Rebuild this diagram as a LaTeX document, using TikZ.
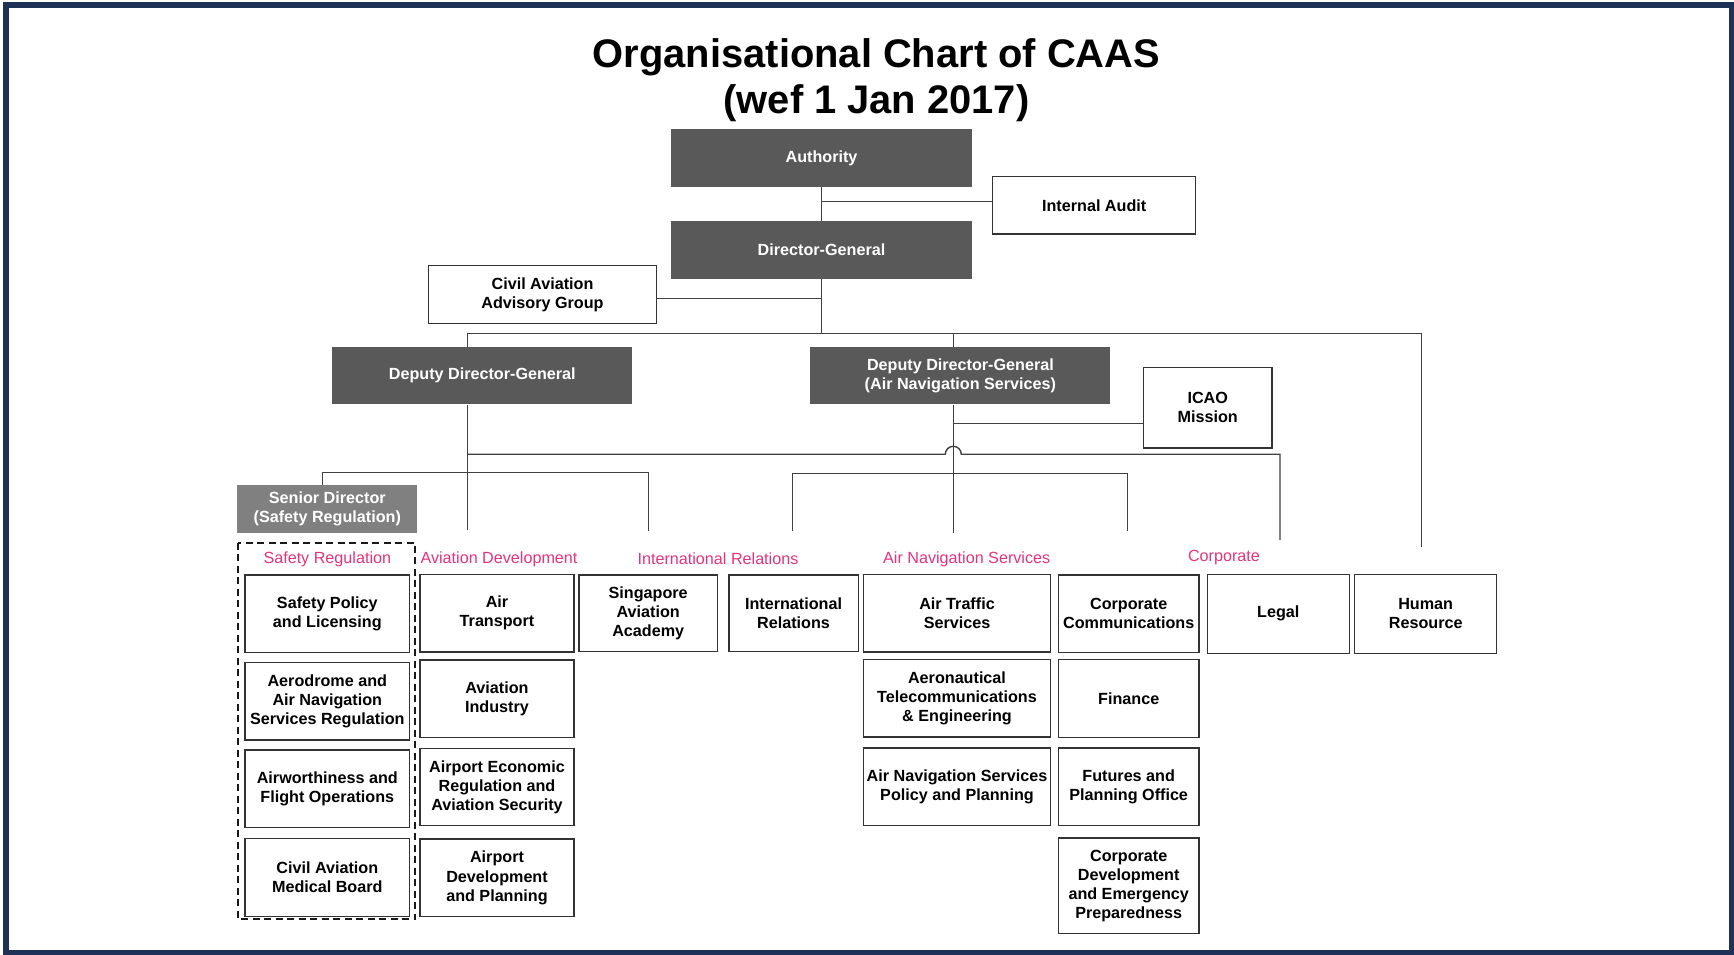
\documentclass[tikz,border=0pt]{standalone}
\usepackage{fontspec}
\setmainfont{Liberation Sans}
\usepackage{tikz}
\usetikzlibrary{positioning,calc}
\definecolor{DARKGREY}{RGB}{89,89,89}
\definecolor{MIDGREY}{RGB}{128,128,128}
\definecolor{UNITPINK}{RGB}{226,52,124}
\definecolor{FRAMENAVY}{RGB}{30,50,88}
\tikzstyle{BOX_DARK} = [rectangle, fill=DARKGREY, text=white, align=center, inner sep=1pt, font=\fontsize{9.2}{10.9}\selectfont\bfseries, minimum width=6cm, minimum height=1.15cm]
\tikzstyle{BOX_WHITE} = [rectangle, draw=black!80, line width=0.8pt, fill=white, align=center, inner sep=1pt, font=\fontsize{9.2}{10.9}\selectfont\bfseries]
\tikzstyle{UNIT} = [BOX_WHITE, minimum height=1.55cm]
\tikzstyle{UNIT_SR} = [UNIT, minimum width=3.3cm]
\tikzstyle{UNIT_AD} = [UNIT, minimum width=3.08cm]
\tikzstyle{UNIT_ANS} = [UNIT, minimum width=3.75cm]
\tikzstyle{UNIT_CORP} = [UNIT, minimum width=2.82cm]
\tikzstyle{GROUP_LABEL} = [text=UNITPINK, inner sep=0pt, font=\fontsize{9.2}{10.9}\selectfont]
\tikzstyle{LINE} = [draw, black!75, line width=0.8pt]

\begin{document}
\begin{tikzpicture}[x=0.02cm, y=-0.02cm, node distance = 2cm]
\useasboundingbox (0,0) rectangle (1734,955);
\draw [FRAMENAVY, line width=0.12cm] (6,5) rectangle (1731.5,952.5);
% Title
\node [inner sep=0pt, align=center, font=\fontsize{22.7}{26}\selectfont\bfseries] (TITLE) at (876.5,80) {Organisational Chart of CAAS\\(wef 1 Jan 2017)};
% Place node
\node [BOX_DARK, minimum width=6.02cm, minimum height=1.16cm] (AUTH) at (821.5,158) {Authority};
\node [BOX_DARK, minimum width=6.02cm, below=0.67cm of AUTH] (DG) {Director-General};
\node [BOX_WHITE, minimum width=4.06cm, minimum height=1.15cm] (IA) at (1094.2,205.3) {Internal Audit};
\node [BOX_WHITE, minimum width=4.57cm, minimum height=1.15cm] (CAAG) at (542.5,294.5) {Civil Aviation\\Advisory Group};
\node [BOX_DARK, minimum height=1.14cm] (DDG) at (482.3,375.8) {Deputy Director-General};
\node [BOX_DARK, minimum height=1.14cm, right=3.55cm of DDG] (DDGANS) {Deputy Director-General\\(Air Navigation Services)};
\node [BOX_WHITE, minimum width=2.57cm, minimum height=1.61cm] (ICAO) at (1207.7,407.8) {ICAO\\Mission};
\node [BOX_DARK, fill=MIDGREY, minimum width=3.6cm, minimum height=0.95cm] (SD) at (327.3,509) {Senior Director\\(Safety Regulation)};
% group labels
\node [GROUP_LABEL] (L_SR) at (327.3,559.3) {Safety Regulation};
\node [GROUP_LABEL] (L_AD) at (499,559.3) {Aviation Development};
\node [GROUP_LABEL] (L_IR) at (718,558.5) {International Relations};
\node [GROUP_LABEL] (L_ANS) at (966.7,559.3) {Air Navigation Services};
\node [GROUP_LABEL] (L_CORP) at (1224,557.7) {Corporate};
% Safety Regulation
\draw [black!90, line width=1.3pt, dash pattern=on 0.14cm off 0.09cm] (238.3,542.7) rectangle (415,919.3);
\node [UNIT_SR] (SPL) at (327.3,613.8) {Safety Policy\\and Licensing};
\node [UNIT_SR, below=0.17cm of SPL] (AANSR) {Aerodrome and\\Air Navigation\\Services Regulation};
\node [UNIT_SR, below=0.17cm of AANSR] (AFO) {Airworthiness and\\Flight Operations};
\node [UNIT_SR, below=0.2cm of AFO] (CAMB) {Civil Aviation\\Medical Board};
% Aviation Development
\node [UNIT_AD] (AT) at (497,613.2) {Air\\Transport};
\node [UNIT_AD, below=0.13cm of AT] (AI) {Aviation\\Industry};
\node [UNIT_AD, below=0.19cm of AI] (AERAS) {Airport Economic\\Regulation and\\Aviation Security};
\node [UNIT_AD, below=0.24cm of AERAS] (ADP) {Airport\\Development\\and Planning};
% International Relations
\node [UNIT, minimum width=2.77cm, minimum height=1.53cm] (SAA) at (648.2,613.4) {Singapore\\Aviation\\Academy};
\node [UNIT, minimum width=2.59cm, minimum height=1.53cm, right=0.2cm of SAA] (IR) {International\\Relations};
% Air Navigation Services
\node [UNIT_ANS] (ATS) at (957,613.4) {Air Traffic\\Services};
\node [UNIT_ANS, below=0.12cm of ATS] (ATE) {Aeronautical\\Telecommunications\\\& Engineering};
\node [UNIT_ANS, below=0.19cm of ATE] (ANSPP) {Air Navigation Services\\Policy and Planning};
% Corporate
\node [UNIT_CORP] (CC) at (1128.7,613.6) {Corporate\\Communications};
\node [UNIT_CORP, below=0.12cm of CC] (FIN) {Finance};
\node [UNIT_CORP, below=0.19cm of FIN] (FPO) {Futures and\\Planning Office};
\node [UNIT_CORP, minimum height=1.91cm, below=0.22cm of FPO] (CDEP) {Corporate\\Development\\and Emergency\\Preparedness};
\node [UNIT, minimum width=2.84cm, minimum height=1.58cm] (LEGAL) at (1278.3,613.8) {Legal};
\node [UNIT, minimum width=2.84cm, minimum height=1.58cm, right=0.08cm of LEGAL] (HR) {Human\\Resource};
% LINES
\coordinate (BUS_TOP) at (821.5,333.3);
\coordinate (DDG_TAP) at (467.7,333.3);
\coordinate (ANS_TAP) at (953.3,333.3);
\coordinate (END_HR) at (1421.7,546.7);
\coordinate (END_AD) at (467.7,530);
\coordinate (BUS_MID) at (467.7,454.3);
\coordinate (END_LEGAL) at (1280,540);
\coordinate (HOP) at (ANS_TAP |- BUS_MID);
\coordinate (END_ATS) at (953.3,533.3);
\coordinate (ICAO_TAP) at (953.3,423.3);
\coordinate (SD_TAP) at (322.7,472.7);
\coordinate (END_SAA) at (648.3,530.7);
\coordinate (END_IR) at (792.7,530.7);
\coordinate (END_CORP) at (1127.7,530.7);
\coordinate (BUS_ANS) at (953.3,473.3);
\path [LINE] (AUTH) -- (DG);
\path [LINE] ([yshift=0.08cm]IA.west) -- ([yshift=0.08cm]IA.west -| AUTH.south);
\path [LINE] ([yshift=-0.08cm]CAAG.east) -- ([yshift=-0.08cm]CAAG.east -| DG.south);
\path [LINE] (DG.south) -- (BUS_TOP);
\path [LINE] (DDG.north -| DDG_TAP) -- (DDG_TAP) -- (END_HR |- DDG_TAP) -- (END_HR);
\path [LINE] (ANS_TAP) -- (ANS_TAP |- DDGANS.north);
\path [LINE] (DDG.south -| END_AD) -- (END_AD);
\path [LINE] (BUS_MID) -- ([xshift=-0.16cm]HOP) arc[start angle=180, end angle=0, radius=0.16cm] -- (BUS_MID -| END_LEGAL) -- (END_LEGAL);
\path [LINE] (ANS_TAP |- DDGANS.south) -- (END_ATS);
\path [LINE] (ICAO_TAP) -- (ICAO_TAP -| ICAO.west);
\path [LINE] (SD_TAP |- SD.north) -- (SD_TAP) -- (SD_TAP -| END_SAA) -- (END_SAA);
\path [LINE] (END_IR) -- (END_IR |- BUS_ANS) -- (END_CORP |- BUS_ANS) -- (END_CORP);
\end{tikzpicture}
\end{document}
